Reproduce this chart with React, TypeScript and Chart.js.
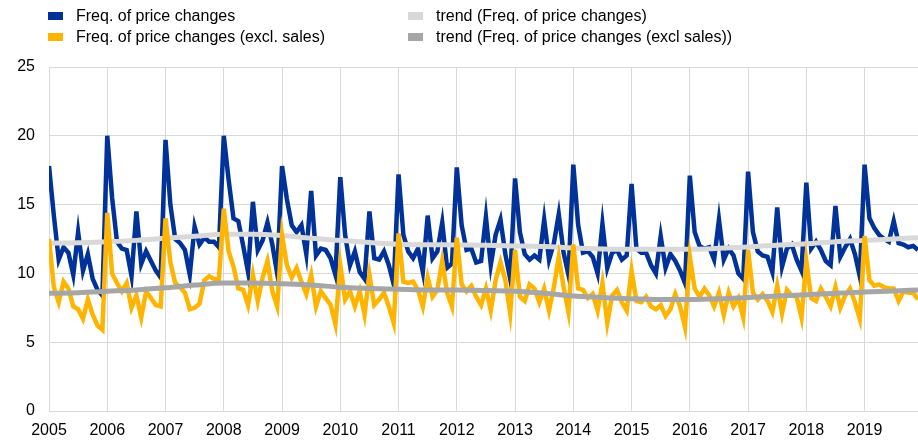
import React, { useEffect, useRef } from 'react';
import { Chart, registerables } from 'chart.js';

Chart.register(...registerables);

const FONT = 'Arial, "Liberation Sans", sans-serif';

// Year tick labels (one per January)
const yearLabels = [2005, 2006, 2007, 2008, 2009, 2010, 2011, 2012, 2013, 2014, 2015, 2016, 2017, 2018, 2019];

// Frequency of price changes (monthly, Jan 2005 - Dec 2019)
const freq = [
  17.8, 14.2, 11.0, 11.9, 11.5, 9.9, 13.0, 10.2, 11.4, 9.6, 8.8, 8.4,
  20.0, 15.5, 12.3, 11.8, 11.7, 9.8, 14.5, 10.7, 11.6, 10.9, 10.2, 9.7,
  19.7, 15.0, 12.5, 12.2, 11.7, 9.9, 13.4, 12.1, 12.6, 12.3, 12.3, 11.9,
  20.0, 16.8, 14.0, 13.8, 12.0, 10.1, 15.2, 11.7, 12.4, 13.7, 12.1, 10.0,
  17.8, 15.4, 13.5, 13.0, 13.5, 11.4, 16.0, 11.3, 11.8, 11.7, 11.1, 9.9,
  17.0, 12.8, 10.6, 11.6, 10.1, 9.6, 14.5, 11.1, 11.0, 11.6, 10.6, 9.2,
  17.2, 12.8, 11.6, 11.1, 11.8, 10.1, 14.2, 11.1, 11.6, 13.7, 10.4, 10.7,
  17.7, 13.5, 11.7, 11.8, 10.8, 10.9, 14.1, 10.6, 12.8, 13.9, 11.4, 9.6,
  16.9, 13.0, 11.4, 11.0, 11.3, 11.0, 13.9, 11.0, 12.2, 14.3, 11.5, 9.9,
  17.9, 13.5, 11.5, 11.6, 11.2, 10.0, 13.6, 10.4, 11.5, 11.7, 11.0, 11.3,
  16.5, 11.8, 11.5, 11.5, 10.6, 10.0, 12.7, 10.4, 11.4, 10.9, 10.2, 9.3,
  17.1, 13.0, 12.0, 11.8, 11.9, 11.0, 13.9, 11.0, 11.8, 11.3, 10.0, 9.6,
  17.4, 13.0, 11.6, 11.3, 11.2, 10.1, 14.8, 10.5, 11.8, 12.1, 11.0, 10.2,
  16.6, 11.8, 12.3, 11.7, 10.9, 10.6, 14.9, 11.2, 11.9, 12.5, 11.4, 9.8,
  17.9, 14.0, 13.3, 12.8, 12.5, 12.3, 13.8, 12.2, 12.1, 11.9, 12.0, 11.7,
];

// Frequency of price changes excluding sales
const freqExcl = [
  12.5, 9.0, 7.9, 9.4, 8.9, 7.6, 7.4, 6.7, 8.1, 7.0, 6.2, 5.9,
  14.4, 10.0, 9.3, 8.7, 9.3, 7.5, 8.4, 6.8, 8.7, 8.2, 7.7, 7.6,
  14.0, 10.8, 9.3, 9.0, 8.6, 7.4, 7.5, 7.8, 9.5, 9.8, 9.6, 9.6,
  14.7, 11.6, 10.5, 8.9, 8.8, 7.7, 9.9, 8.0, 9.7, 10.9, 8.7, 7.6,
  12.8, 10.6, 9.7, 10.4, 9.4, 8.5, 9.9, 7.6, 8.7, 8.2, 7.7, 6.3,
  10.6, 8.1, 8.7, 7.6, 8.7, 7.0, 9.9, 7.7, 8.1, 8.6, 7.6, 6.4,
  12.9, 9.4, 9.3, 9.4, 8.8, 7.6, 9.7, 8.3, 8.8, 10.9, 8.6, 7.6,
  12.6, 9.2, 8.7, 9.1, 8.3, 7.7, 8.9, 7.3, 9.5, 10.8, 9.5, 7.1,
  11.7, 8.3, 8.0, 9.2, 8.9, 7.9, 8.9, 7.3, 9.0, 11.2, 9.0, 7.2,
  12.1, 8.9, 8.8, 8.2, 8.5, 7.3, 9.3, 6.4, 8.4, 8.8, 7.9, 7.3,
  10.2, 8.0, 7.9, 8.3, 7.6, 7.4, 7.7, 6.9, 7.4, 8.5, 7.6, 6.1,
  11.2, 8.9, 8.3, 8.9, 8.4, 7.6, 8.6, 7.0, 8.6, 7.6, 8.2, 6.8,
  11.7, 8.6, 8.1, 8.5, 8.0, 7.2, 9.1, 7.1, 8.8, 8.4, 8.3, 6.8,
  10.9, 8.2, 8.0, 8.9, 8.3, 7.6, 9.0, 7.5, 8.4, 8.9, 7.9, 6.7,
  12.7, 9.5, 9.1, 9.2, 9.0, 8.9, 8.9, 8.0, 8.7, 8.6, 8.6, 8.1,
];

// Trend readings (month index since Jan 2005)
const trendMonths = [0, 6, 12, 18, 24, 30, 36, 42, 48, 54, 60, 66, 72, 78, 84, 90, 96, 102, 108, 114, 120, 126, 132, 138, 144, 150, 156, 162, 168, 174, 179];
const trendFreq = [12.2, 12.22, 12.3, 12.4, 12.55, 12.7, 12.85, 12.85, 12.75, 12.55, 12.4, 12.25, 12.12, 12.08, 12.07, 12.05, 12.0, 11.95, 11.85, 11.78, 11.75, 11.75, 11.75, 11.82, 11.92, 12.05, 12.15, 12.3, 12.4, 12.5, 12.6];
const trendExcl = [8.55, 8.6, 8.7, 8.8, 8.95, 9.15, 9.3, 9.3, 9.25, 9.15, 9.0, 8.9, 8.85, 8.8, 8.8, 8.75, 8.7, 8.55, 8.35, 8.25, 8.15, 8.1, 8.1, 8.15, 8.25, 8.35, 8.45, 8.55, 8.65, 8.72, 8.8];

const seriesLabels = [
  'Freq. of price changes',
  'trend (Freq. of price changes)',
  'Freq. of price changes (excl. sales)',
  'trend (Freq. of price changes (excl sales))',
];
const seriesColors = ['#003299', '#D9D9D9', '#FFB400', '#A6A6A6'];

export default function App() {
  const canvasRef = useRef<HTMLCanvasElement | null>(null);

  useEffect(() => {
    document.body.style.margin = '0';
    const ctx = canvasRef.current;
    if (!ctx) return;
    const toXY = (vals: number[]) => vals.map((y, i) => ({ x: i, y }));
    const toTrend = (vals: number[]) => vals.map((y, i) => ({ x: trendMonths[i], y }));

    const chart = new Chart(ctx, {
      type: 'line',
      data: {
        datasets: [
          { label: seriesLabels[0], data: toXY(freq), borderColor: seriesColors[0], backgroundColor: seriesColors[0], borderWidth: 4.5, pointRadius: 0, tension: 0, order: 4 },
          { label: seriesLabels[1], data: toTrend(trendFreq), borderColor: seriesColors[1], backgroundColor: seriesColors[1], borderWidth: 5, pointRadius: 0, cubicInterpolationMode: 'monotone', order: 3 },
          { label: seriesLabels[2], data: toXY(freqExcl), borderColor: seriesColors[2], backgroundColor: seriesColors[2], borderWidth: 4.5, pointRadius: 0, tension: 0, order: 2 },
          { label: seriesLabels[3], data: toTrend(trendExcl), borderColor: seriesColors[3], backgroundColor: seriesColors[3], borderWidth: 5, pointRadius: 0, cubicInterpolationMode: 'monotone', order: 1 },
        ] as any,
      },
      options: {
        responsive: false,
        animation: false,
        devicePixelRatio: 1,
        layout: { padding: { top: 67, right: 0, bottom: 0, left: 0 } },
        plugins: { legend: { display: false }, tooltip: { enabled: false } },
        scales: {
          x: {
            type: 'linear',
            min: 0,
            max: 179,
            grid: { color: '#D9D9D9', drawTicks: false, lineWidth: 1 },
            border: { display: false },
            afterBuildTicks: (s: any) => {
              s.ticks = yearLabels.map((_, i) => ({ value: i * 12 }));
            },
            ticks: {
              autoSkip: false,
              maxRotation: 0,
              padding: 10,
              color: '#000',
              font: { family: FONT, size: 16 },
              callback: (v: any) => String(yearLabels[Math.round(Number(v) / 12)]),
            },
            afterFit: (s: any) => { s.height = 30; },
          },
          y: {
            min: 0,
            max: 25,
            grid: { color: '#D9D9D9', drawTicks: false, lineWidth: 1 },
            border: { display: false },
            ticks: { stepSize: 5, padding: 14, color: '#000', font: { family: FONT, size: 16 } },
            afterFit: (s: any) => { s.width = 49; },
          },
        },
      } as any,
    });
    return () => chart.destroy();
  }, []);

  const legendPos = [
    { left: 48, top: 6 },
    { left: 408, top: 6 },
    { left: 48, top: 27 },
    { left: 408, top: 27 },
  ];

  return (
    <div style={{ position: 'relative', width: 918, height: 441, background: '#fff', fontFamily: FONT }}>
      <canvas ref={canvasRef} width={918} height={441} style={{ display: 'block', width: 918, height: 441 }} />
      {seriesLabels.map((lab, i) => (
        <div key={lab} style={{ position: 'absolute', left: legendPos[i].left, top: legendPos[i].top, height: 20, display: 'flex', alignItems: 'center', fontSize: 16, color: '#000', whiteSpace: 'nowrap' }}>
          <span style={{ display: 'inline-block', width: 15, height: 8, background: seriesColors[i], marginRight: 13 }} />
          <span>{lab}</span>
        </div>
      ))}
    </div>
  );
}
